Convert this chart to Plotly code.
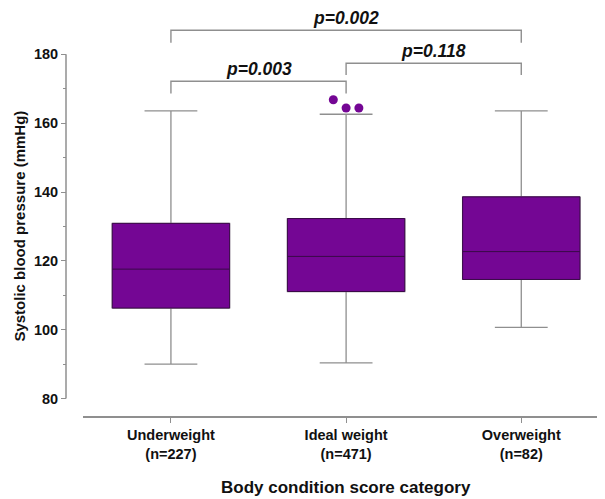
import plotly.graph_objects as go

# ---- data ----
categories = ["Underweight", "Ideal weight", "Overweight"]
n_labels = ["(n=227)", "(n=471)", "(n=82)"]
lower_whisker = [90.0, 90.4, 100.7]
q1 = [106.3, 111.1, 114.6]
median = [117.6, 121.3, 122.7]
q3 = [130.9, 132.3, 138.6]
upper_whisker = [163.6, 162.6, 163.6]
outlier_group = [1, 1, 1]
outlier_values = [166.8, 164.4, 164.4]

# significance brackets
bracket_left = [0, 1, 0]
bracket_right = [1, 2, 2]
bracket_top = [172.2, 177.4, 187.0]
bracket_tip = [168.6, 174.0, 183.4]
bracket_labels = ["p=0.003", "p=0.118", "p=0.002"]

y_ticks = [80, 100, 120, 140, 160, 180]
y_minor = [90, 110, 130, 150, 170]

PURPLE = "#740694"
GRAY = "#8f8f8f"
FONT = "Liberation Sans, Arial, sans-serif"

xpos = list(range(len(categories)))
ticktext = [f"{c}<br>{n}" for c, n in zip(categories, n_labels)]

fig = go.Figure()

# whiskers (gray)
fig.add_trace(go.Box(
    x=xpos, q1=q1, median=median, q3=q3,
    lowerfence=lower_whisker, upperfence=upper_whisker,
    width=0.67, whiskerwidth=0.45, boxpoints=False,
    fillcolor=PURPLE, line=dict(color=GRAY, width=1.3),
    hoverinfo="skip", showlegend=False,
))
# box body on top (purple, dark median)
fig.add_trace(go.Box(
    x=xpos, q1=q1, median=median, q3=q3,
    lowerfence=q1, upperfence=q3,
    width=0.67, whiskerwidth=0, boxpoints=False,
    fillcolor=PURPLE, line=dict(color="#3a0a48", width=1),
    showlegend=False,
))

# outliers, dodged horizontally within their group
ox = []
for g in sorted(set(outlier_group)):
    idx = [i for i, gg in enumerate(outlier_group) if gg == g]
    k = len(idx)
    for j, i in enumerate(idx):
        ox.append(g + (j - (k - 1) / 2) * 0.073)
fig.add_trace(go.Scatter(
    x=ox, y=outlier_values, mode="markers",
    marker=dict(color=PURPLE, size=9), showlegend=False,
))

# brackets
for a, b, top, tip, lab in zip(bracket_left, bracket_right, bracket_top, bracket_tip, bracket_labels):
    fig.add_trace(go.Scatter(
        x=[a, a, b, b], y=[tip, top, top, tip], mode="lines",
        line=dict(color=GRAY, width=1.4), showlegend=False, hoverinfo="skip",
    ))
    fig.add_annotation(
        x=(a + b) / 2, y=top, xref="x", yref="y", text=f"<b><i>{lab}</i></b>",
        showarrow=False, yanchor="bottom", yshift=0,
        font=dict(family=FONT, size=17.5, color="#111111"),
    )

# y axis line only over the tick span
fig.add_shape(type="line", xref="paper", yref="y", x0=0, x1=0,
              y0=y_ticks[0], y1=y_ticks[-1], line=dict(color=GRAY, width=1.5))

# axis titles
fig.add_annotation(
    x=-0.087, xref="paper", y=(y_ticks[0] + y_ticks[-1]) / 2, yref="y",
    text="<b>Systolic blood pressure (mmHg)</b>", textangle=-90, showarrow=False,
    xanchor="center", yanchor="middle", font=dict(family=FONT, size=15, color="#111111"),
)
fig.add_annotation(
    x=1, xref="x", y=-0.176, yref="paper",
    text="<b>Body condition score category</b>", showarrow=False,
    xanchor="center", yanchor="middle", font=dict(family=FONT, size=17, color="#111111"),
)

fig.update_layout(
    width=597, height=491,
    margin=dict(l=58, r=0, t=2, b=83),
    paper_bgcolor="white", plot_bgcolor="white",
    boxmode="overlay",
    font=dict(family=FONT, color="#111111"),
    xaxis=dict(
        domain=[17 / 539, 1], range=[-0.502, 2.478],
        tickvals=xpos, ticktext=[f"<b>{t}</b>" for t in ticktext],
        showline=True, linecolor=GRAY, linewidth=1.5,
        ticks="outside", ticklen=5, tickcolor=GRAY, tickwidth=1.2,
        showgrid=False, zeroline=False,
        tickfont=dict(family=FONT, size=14.5, color="#111111"),
    ),
    yaxis=dict(
        anchor="free", position=0,
        range=[74.94, 192.88],
        tickvals=y_ticks, ticktext=[f"<b>{v}</b>" for v in y_ticks],
        showline=False, ticks="outside", ticklen=5, tickcolor=GRAY, tickwidth=1.2,
        minor=dict(tickvals=y_minor, ticks="outside", ticklen=3, tickcolor=GRAY, tickwidth=1),
        showgrid=False, zeroline=False,
        tickfont=dict(family=FONT, size=14.5, color="#111111"),
    ),
)

fig.write_html("out.html")
